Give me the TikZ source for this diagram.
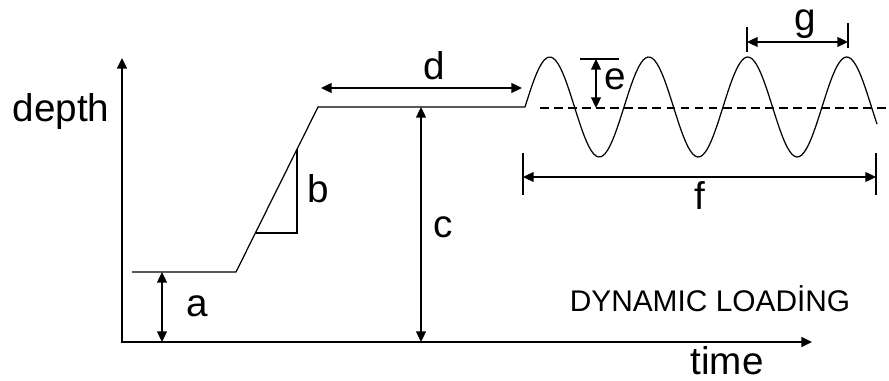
\documentclass[tikz,border=0pt]{standalone}
\usepackage{fontspec}
\setmainfont{Liberation Sans}
\usetikzlibrary{arrows.meta,positioning,calc}

\begin{document}
\begin{tikzpicture}[x=0.02cm,y=-0.02cm,
    dimarrow/.style={{Triangle[length=6pt,width=5.5pt]}-{Triangle[length=6pt,width=5.5pt]},line width=1.1pt},
    lbl/.style={font=\fontsize{22}{26}\selectfont,anchor=base,inner sep=0pt}]
    \useasboundingbox (0,0) rectangle (889,381);
    % axes
    \coordinate (o) at (122,342);
    \coordinate (ytip) at (122,58);
    \coordinate (xtip) at (812,342);
    \draw[line width=1.3pt,{Triangle[length=6pt,width=5.5pt]}-{Triangle[length=6pt,width=5.5pt]}] (ytip) -- (o) -- (xtip);
    \node[lbl] (depth) at (61,122) {depth};
    \node[lbl] (time) at (727,375) {time};
    % depth profile
    \coordinate (lo0) at (132,272);
    \coordinate (lo1) at (236,272);
    \coordinate (hi0) at (318,107);
    \coordinate (hi1) at (525,107);
    \draw[line width=0.7pt] (lo0) -- (lo1) -- (hi0) -- (hi1);
    \draw[line width=0.7pt] plot[domain=525:877,samples=150] (\x,{107-50*sin(3.6364*(\x-525))});
    \draw[line width=1pt,dash pattern=on 5pt off 3pt] (540,108) -- (886,108);
    % slope triangle
    \coordinate (tb0) at (256,233);
    \coordinate (tb1) at (297,233);
    \coordinate (tb2) at (297,149);
    \draw[line width=0.7pt] (tb0) -- (tb1) -- (tb2);
    \node[lbl] (b) at (318,203) {b};
    % a
    \coordinate (a0) at (162,272);
    \coordinate (a1) at (162,342);
    \draw[dimarrow] (a0) -- (a1);
    \node[lbl] (a) at (197,317) {a};
    % c
    \coordinate (c0) at (421,107);
    \coordinate (c1) at (421,342);
    \draw[dimarrow] (c0) -- (c1);
    \node[lbl] (c) at (443,238) {c};
    % d
    \coordinate (d0) at (321,88);
    \coordinate (d1) at (522,88);
    \draw[dimarrow] (d0) -- (d1);
    \node[lbl] (d) at (434,80) {d};
    % e
    \coordinate (e0) at (596,59);
    \coordinate (e1) at (596,108);
    \draw[line width=0.7pt] (580,59) -- (619,59);
    \draw[dimarrow] (e0) -- (e1);
    \node[lbl] (e) at (615,90) {e};
    % f
    \coordinate (f0) at (523,177);
    \coordinate (f1) at (876,177);
    \foreach \fx in {523,876} {
        \draw[line width=1pt] (\fx,153) -- (\fx,195);
    }
    \draw[dimarrow] (f0) -- (f1);
    \node[lbl] (f) at (700,210) {f};
    % g
    \coordinate (g0) at (747,42);
    \coordinate (g1) at (848,42);
    \draw[line width=1pt] (747,27) -- (747,52);
    \draw[line width=1pt] (848,23) -- (848,48);
    \draw[dimarrow] (g0) -- (g1);
    \node[lbl] (g) at (805,31) {g};
    \node[font=\fontsize{17}{20}\selectfont,anchor=base,inner sep=0pt] (dyn) at (710,312) {DYNAMIC LOADİNG};
\end{tikzpicture}
\end{document}
